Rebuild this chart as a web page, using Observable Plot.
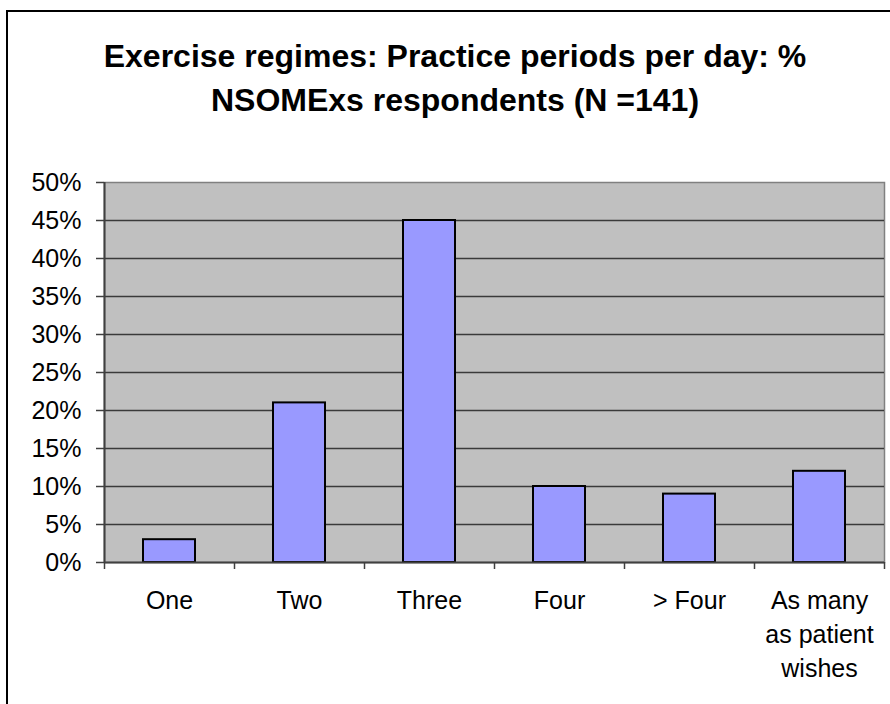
<!DOCTYPE html>
<html><head><meta charset="utf-8">
<script src="https://cdn.jsdelivr.net/npm/d3@7"></script>
<script src="https://cdn.jsdelivr.net/npm/@observablehq/plot@0.6"></script>
<style>
body{margin:0;background:#fff;font-family:"Liberation Sans",Arial,sans-serif;}
#wrap{position:relative;width:890px;height:704px;overflow:hidden;background:#fff;}
#frame{position:absolute;left:6px;top:10px;width:900px;height:720px;border:2px solid #000;box-sizing:border-box;}
#title{position:absolute;left:0;width:910px;top:34px;text-align:center;font-weight:bold;font-size:32px;line-height:44px;color:#000;}
#chart{position:absolute;left:0;top:0;}
</style>
</head><body>
<div id="wrap">
<div id="frame"></div>
<div id="chart"></div>
<div id="title">Exercise regimes: Practice periods per day: %<br>NSOMExs respondents (N =141)</div>
</div>
<script>
const categories = ["One", "Two", "Three", "Four", "> Four", "As many\nas patient\nwishes"];
const values = [3, 21, 45, 10, 9, 12];
const yTicks = [0, 5, 10, 15, 20, 25, 30, 35, 40, 45, 50];

const data = categories.map((c, i) => ({i, c, v: values[i]}));
const edges = d3.range(categories.length + 1);
const centers = categories.map((c, i) => i + 0.5);

const chart = Plot.plot({
  width: 890,
  height: 704,
  marginLeft: 104,
  marginRight: 6,
  marginTop: 182,
  marginBottom: 142,
  style: {fontFamily: "'Liberation Sans', Arial, sans-serif", fontSize: "25px", color: "#000", background: "transparent"},
  x: {domain: [0, categories.length], axis: null, label: null},
  y: {domain: [0, 50], axis: null, label: null},
  marks: [
    Plot.frame({fill: "#C0C0C0", stroke: "#808080", strokeWidth: 1.5}),
    Plot.ruleY(yTicks.slice(1, -1), {stroke: "#3a3a3a", strokeWidth: 1.5}),
    Plot.rectY(data, {x1: "i", x2: d => d.i + 1, y: "v", insetLeft: 39, insetRight: 39, fill: "#9999FF", stroke: "#000", strokeWidth: 2}),
    Plot.ruleX([0], {stroke: "#404040", strokeWidth: 2}),
    Plot.ruleY([0], {stroke: "#404040", strokeWidth: 2}),
    Plot.axisY({ticks: yTicks, tickFormat: d => d + "%", tickSize: 8, tickPadding: 15, fontSize: 25, stroke: "#404040", strokeWidth: 1.5, fill: "#000", label: null}),
    Plot.axisX({ticks: edges, tickFormat: () => "", tickSize: 7, stroke: "#404040", strokeWidth: 1.5, label: null}),
    Plot.axisX({ticks: centers, tickFormat: d => categories[Math.floor(d)], tickSize: 0, tickPadding: 22, fontSize: 25, lineHeight: 1.36, fill: "#000", label: null})
  ]
});
document.getElementById("chart").appendChild(chart);
</script>
</body></html>
